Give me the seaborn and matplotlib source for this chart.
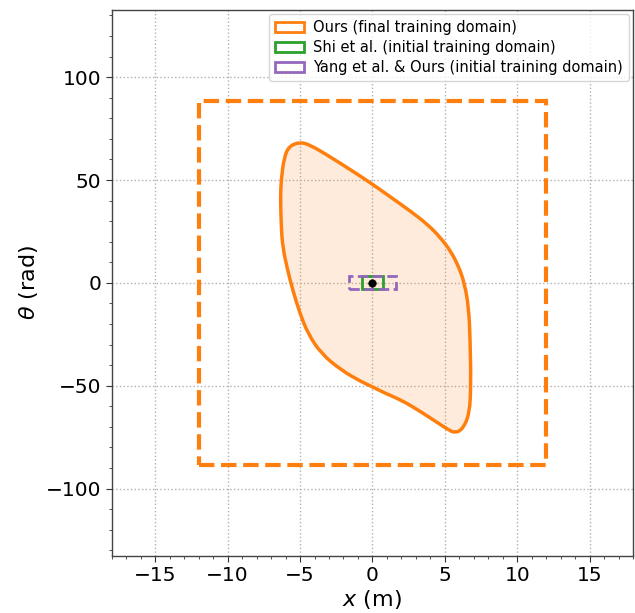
import numpy as np
import pandas as pd
import seaborn as sns
import matplotlib
matplotlib.use("Agg")
import matplotlib.pyplot as plt
from matplotlib.patches import Rectangle, Patch, PathPatch
from matplotlib.path import Path

# ---- data ----
curve_x = [-5.0, -4.3, -3.2, -1.4, 0.0, 1.4, 2.6, 3.8, 4.7, 5.4, 5.95, 6.35, 6.65, 6.75, 6.8, 6.7,
           6.25, 5.7, 5.2, 4.4, 3.2, 2.0, 0.83, 0.0, -0.78, -2.16, -3.55, -4.45, -5.0, -5.5, -5.85,
           -6.2, -6.3, -6.35, -6.3, -6.1, -5.75]
curve_y = [68.5, 67, 62.5, 54.5, 48, 41, 35, 28.5, 22, 15.5, 8, 0, -12, -28, -50, -63.5,
           -71, -73, -71.2, -67.5, -62, -57, -53.5, -50.5, -48, -42.4, -34.3, -24.6, -15, -3.5, 6,
           17.5, 28, 42, 50, 61, 66.5]

final_x = [-12.0, 12.0]      # Ours final training domain (x range)
final_y = [-88.5, 88.5]      # (theta range)
shi_x = [-0.7, 0.7]
shi_y = [-3.2, 3.2]
yang_x = [-1.6, 1.6]
yang_y = [-3.2, 3.2]
origin = [0.0, 0.0]

labels = ["Ours (final training domain)",
          "Shi et al. (initial training domain)",
          "Yang et al. & Ours (initial training domain)"]
c_orange, c_green, c_purple = "#ff7f0e", "#2ca02c", "#9467bd"

sns.set_style("ticks")
plt.rcParams["font.family"] = ["DejaVu Sans"]
plt.rcParams["text.color"] = "black"
plt.rcParams["axes.labelcolor"] = "black"
plt.rcParams["xtick.color"] = "black"
plt.rcParams["ytick.color"] = "black"

fig = plt.figure(figsize=(6.35, 6.13), dpi=100)
ax = fig.add_axes([0.176, 0.093, 0.821, 0.891])

df = pd.DataFrame({"x": curve_x, "y": curve_y})

# smooth closed outline through the read points (quadratic bezier via midpoints)
P = df[["x", "y"]].to_numpy()
n = len(P)
mids = (P + np.roll(P, -1, axis=0)) / 2
verts = [mids[-1]]
codes = [Path.MOVETO]
for i in range(n):
    verts += [P[i], mids[i]]
    codes += [Path.CURVE3, Path.CURVE3]
path = Path(verts, codes)
ax.add_patch(PathPatch(path, facecolor=c_orange, alpha=0.15, edgecolor="none", zorder=2))
ax.add_patch(PathPatch(path, facecolor="none", edgecolor=c_orange, lw=2.5, zorder=3))

def rect(xr, yr, color, lw, ls):
    ax.add_patch(Rectangle((xr[0], yr[0]), xr[1] - xr[0], yr[1] - yr[0],
                           fill=False, edgecolor=color, lw=lw, ls=ls, zorder=4))

rect(final_x, final_y, c_orange, 3, "--")
rect(shi_x, shi_y, c_green, 2, "-")
rect(yang_x, yang_y, c_purple, 2, "--")
sns.scatterplot(x=[origin[0]], y=[origin[1]], color="black", s=30, ax=ax, zorder=5,
                edgecolor="black")

ax.set_xlim(1.5 * final_x[0], 1.5 * final_x[1])
ax.set_ylim(1.5 * final_y[0], 1.5 * final_y[1])
ax.set_xticks(np.arange(-15, 16, 5))
ax.set_yticks([-100, -50, 0, 50, 100])
ax.xaxis.set_minor_locator(matplotlib.ticker.MultipleLocator(1))
ax.yaxis.set_minor_locator(matplotlib.ticker.MultipleLocator(10))
ax.tick_params(axis="both", which="major", labelsize=14.5, length=4, color="#333333")
ax.tick_params(axis="both", which="minor", length=2, color="#333333")
ax.grid(True, which="major", ls=":", color="#b0b0b0", lw=1)
for s in ax.spines.values():
    s.set_color("#444444")
    s.set_linewidth(1)
ax.set_xlabel("$x$ (m)", fontsize=16, labelpad=2)
ax.set_ylabel(r"$\theta$ (rad)", fontsize=16)

handles = [Patch(facecolor="none", edgecolor=c, lw=2) for c in (c_orange, c_green, c_purple)]
ax.legend(handles, labels, loc="upper right", fontsize=10.5, handlelength=2.0,
          borderpad=0.4, labelspacing=0.35, handletextpad=0.6, borderaxespad=0.3)

fig.savefig("out.png", dpi=100)
